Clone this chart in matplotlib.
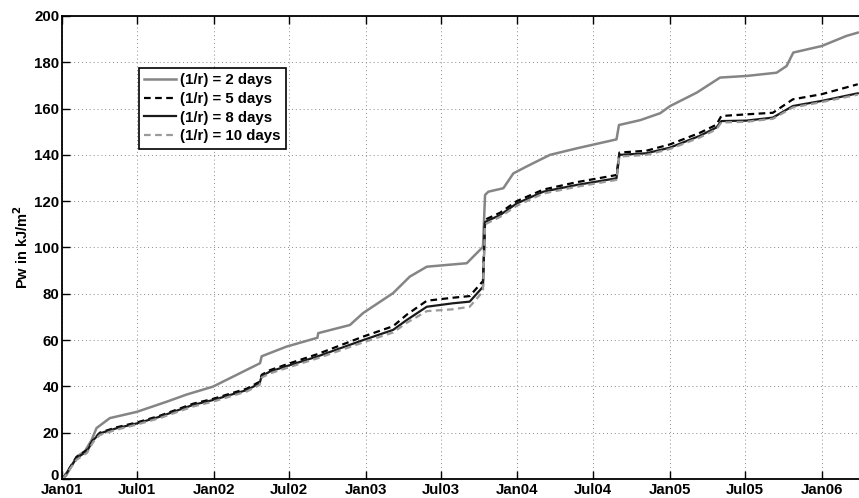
import numpy as np
import pandas as pd
import matplotlib
matplotlib.use('Agg')
import matplotlib.pyplot as plt
import matplotlib.dates as mdates
import matplotlib.transforms as mtransforms

plt.rcParams['font.family'] = ['Liberation Sans', 'DejaVu Sans']
plt.rcParams['font.weight'] = 'bold'

start = pd.Timestamp('2001-01-01')

# 1/r = 2 days (upper grey curve), days since Jan01 and Pw in kJ/m2
days_r2 = [0, 10, 35, 55, 71, 83, 115, 180, 252, 300, 363, 420, 476, 480, 540,
           614, 616, 692, 724, 796, 836, 877, 973, 1005, 1012, 1017, 1025, 1061,
           1085, 1117, 1173, 1237, 1333, 1339, 1390, 1438, 1462, 1526, 1582, 1646,
           1718, 1742, 1758, 1826, 1886, 1913]
pw_r2 = [0, 1.5, 9.6, 12, 16.8, 22, 26.3, 29, 33.4, 36.5, 39.9, 45, 50, 53, 57.2,
         61, 63, 66.5, 71.7, 80.3, 87.4, 91.7, 93.2, 99, 100.3, 122.7, 124.1, 125.6,
         132, 135, 140, 142.8, 146.7, 152.9, 155, 158, 161.1, 166.9, 173.4, 174.1,
         175.5, 178.4, 184.2, 187, 191.4, 192.8]

# lower group (5, 8 and 10 days) share the same event days
days_low = [0, 5, 35, 60, 75, 91, 131, 180, 235, 315, 363, 444, 475, 480, 500,
            548, 612, 724, 796, 829, 877, 940, 980, 1012, 1017, 1053, 1093, 1157,
            1237, 1333, 1340, 1405, 1461, 1533, 1573, 1585, 1645, 1709, 1757, 1826,
            1913]
pw_r5 = [0, 1, 9.5, 12.5, 17, 20, 22.3, 24.4, 27.3, 32.5, 34.6, 39, 42, 45, 47,
         50, 53.8, 61.5, 66, 71, 77, 78.3, 79, 85.5, 112, 115, 120, 125,
         128.2, 131.3, 141, 141.8, 144.5, 149.5, 153, 156.8, 157.5, 158.2, 164, 166.2,
         170.5]
pw_r8 = [0, 1, 9, 12, 16.8, 19.7, 21.9, 24, 26.9, 32, 34.1, 38.4, 41.3, 44.5, 46.4,
         49.2, 52.8, 60, 64.4, 68.7, 74.4, 75.9, 76.6, 83, 111, 114, 119, 124.1,
         127, 129.9, 140, 140.7, 143.1, 148.2, 151.8, 154.6, 154.8, 156.1, 161.1, 163.3,
         166.6]
pw_r10 = [0, 0.8, 8.3, 11.3, 16, 19, 21.3, 23.5, 26.3, 31.3, 33.4, 37.8, 40.6, 43.8, 45.6,
          48.4, 52, 59, 63.3, 67.5, 72.5, 73.3, 74.4, 81, 110, 113.2, 118, 123.3,
          126.2, 129.2, 139.3, 140, 142.5, 147.5, 151, 154, 154.3, 155.6, 160.5, 162.8,
          166]

labels = ['(1/r) = 2 days', '(1/r) = 5 days', '(1/r) = 8 days', '(1/r) = 10 days']

t_r2 = start + pd.to_timedelta(days_r2, unit='D')
t_low = start + pd.to_timedelta(days_low, unit='D')

fig = plt.figure(figsize=(8.59, 4.98), dpi=100)
ax = fig.add_axes([0.0722, 0.0382, 0.9278, 0.9297])

ax.plot(t_r2, pw_r2, color='#858585', lw=1.8, label=labels[0])
ax.plot(t_low, pw_r5, color='black', lw=1.6, ls=(0, (3, 2)), label=labels[1])
ax.plot(t_low, pw_r8, color='#1a1a1a', lw=1.6, label=labels[2])
ax.plot(t_low, pw_r10, color='#9a9a9a', lw=1.6, ls=(0, (3, 2)), label=labels[3])

ax.set_xlim(start, pd.Timestamp('2006-04-01'))
ax.set_ylim(0, 200)
ax.set_yticks(np.arange(0, 201, 20))
ax.xaxis.set_major_locator(mdates.MonthLocator(bymonth=[1, 7]))
ax.xaxis.set_major_formatter(mdates.DateFormatter('%b%y'))

ax.grid(True, ls=(0, (1, 3)), color='#888888', lw=0.7)
ax.tick_params(direction='in', length=6, width=1, top=True, labelsize=10.8)
ax.tick_params(axis='y', pad=2)
ax.tick_params(axis='x', pad=3)
for s in ['left', 'bottom', 'top']:
    ax.spines[s].set_linewidth(1.3)
ax.spines['right'].set_visible(False)

# lift the "0" a touch so it does not sit on top of "Jan01"
fig.canvas.draw()
zero_lbl = ax.get_yticklabels()[0]
zero_lbl.set_transform(zero_lbl.get_transform() +
                       mtransforms.ScaledTranslation(0, 3 / 72, fig.dpi_scale_trans))

ax.set_ylabel('Pw in kJ/m$^2$', fontsize=10.5, fontweight='bold', labelpad=2)

leg = ax.legend(loc='upper left', bbox_to_anchor=(0.0966, 0.888), borderaxespad=0,
                fancybox=False, edgecolor='black', framealpha=1, fontsize=10.8,
                handlelength=2.1, handletextpad=0.3, labelspacing=0.32,
                borderpad=0.35)
leg.get_frame().set_linewidth(1.2)

fig.savefig('out.png', dpi=100)
